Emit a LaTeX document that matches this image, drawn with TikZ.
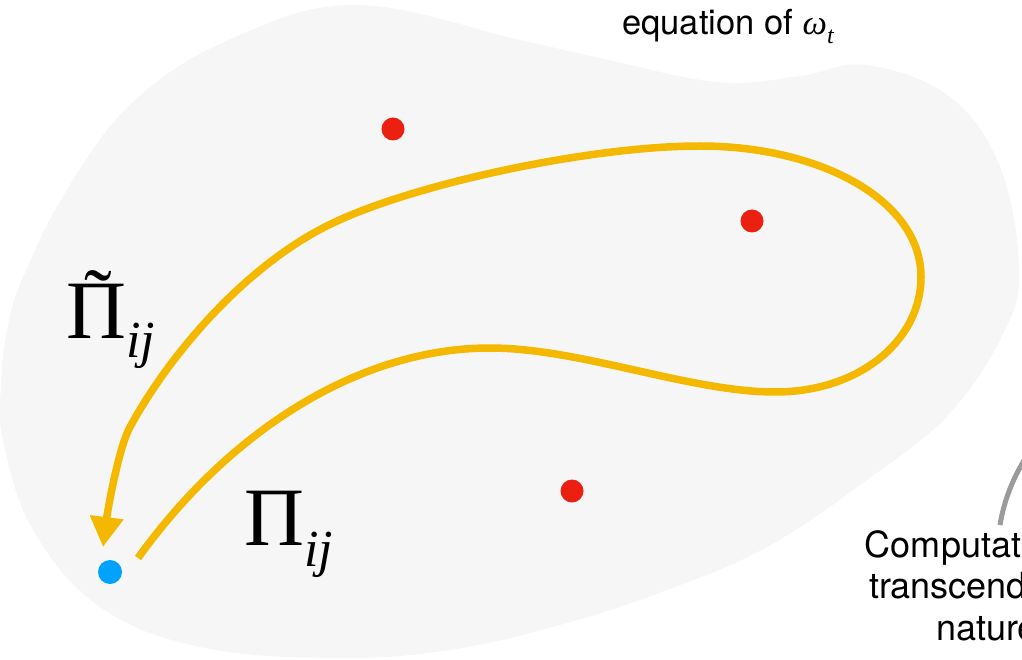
\documentclass[tikz,border=0pt]{standalone}
\usepackage{fontspec}
\setmainfont{TeX Gyre Heros}
\newfontfamily\timesfont{Liberation Serif}
\usetikzlibrary{arrows.meta}
\definecolor{blobgray}{HTML}{F6F6F6}
\definecolor{pathyellow}{HTML}{F5B800}
\definecolor{dotred}{HTML}{EC2010}
\definecolor{dotblue}{HTML}{00A2FF}
\definecolor{arcgray}{HTML}{9B9B9B}
\newcommand\bigpi{{\fontsize{83}{83}\selectfont\timesfont Π}}
\newcommand\subij{{\fontsize{52}{52}\selectfont\timesfont\itshape ij}}
\tikzset{
  reddot/.style={circle, fill=dotred, minimum size=23pt, inner sep=0pt},
  bluedot/.style={circle, fill=dotblue, minimum size=24pt, inner sep=0pt},
  mainpath/.style={draw=pathyellow, line width=7.5pt, -{Triangle[length=30pt,width=32pt]}},
  biglabel/.style={inner sep=0pt, anchor=base west},
  caption/.style={inner sep=0pt, anchor=base, font=\fontsize{36}{41}\selectfont},
  pointer/.style={draw=arcgray, line width=5pt}
}
\begin{document}
\begin{tikzpicture}[x=1pt,y=-1pt]
\useasboundingbox (0,0) rectangle (1022,660);
\clip (0,0) rectangle (1022,660);
% blob
\fill[blobgray] plot[smooth cycle, tension=0.65] coordinates {
  (357,5) (520,40) (600,58) (717,82) (800,76) (867,65) (950,97) (1000,167)
  (1019,267) (1005,330) (950,413) (867,480) (767,547) (667,590) (567,623)
  (450,650) (333,658) (200,647) (100,607) (33,530) (3,440) (1,385) (8,325)
  (24,275) (68,188) (135,100) (233,38)};
% dots
\node[reddot] (r1) at (393,129) {};
\node[reddot] (r2) at (752,221) {};
\node[reddot] (r3) at (572,491) {};
\node[bluedot] (b) at (110,572) {};
% path
\coordinate (tail) at (138,558);
\coordinate (tip) at (103,547);
\draw[mainpath] (tail)
  .. controls (230,430) and (360,348) .. (490,348)
  .. controls (580,348) and (690,392) .. (775,392)
  .. controls (860,392) and (921,340) .. (921,277)
  .. controls (921,200) and (820,146) .. (700,146)
  .. controls (590,146) and (414,184) .. (333,223)
  .. controls (250,262) and (172,350) .. (130,427)
  .. controls (118,449) and (107,515) .. (tip);
% labels
\node[biglabel] (pt) at (66,338)
  {\bigpi\llap{\fontsize{83}{83}\selectfont\timesfont\raisebox{12pt}{˜}\hspace{14pt}}\raisebox{-19pt}{\subij}};
\node[biglabel] (p) at (244,545) {\bigpi\raisebox{-21pt}{\subij}};
\node[inner sep=0pt, anchor=base west, font=\fontsize{34.5}{41}\selectfont] (eq) at (622,35)
  {equation of {\timesfont\itshape ω\raisebox{-9pt}{\fontsize{24}{24}\selectfont t}}};
\node[caption] (c1) at (987,557) {Computation of};
\node[caption] (c2) at (987,598) {transcendental};
\node[caption] (c3) at (987,640) {nature};
% pointer arc
\coordinate (arcstart) at (1000,525);
\coordinate (arcend) at (1035,445);
\draw[pointer] (arcstart) .. controls (1004,500) and (1015,470) .. (arcend);
\end{tikzpicture}
\end{document}
